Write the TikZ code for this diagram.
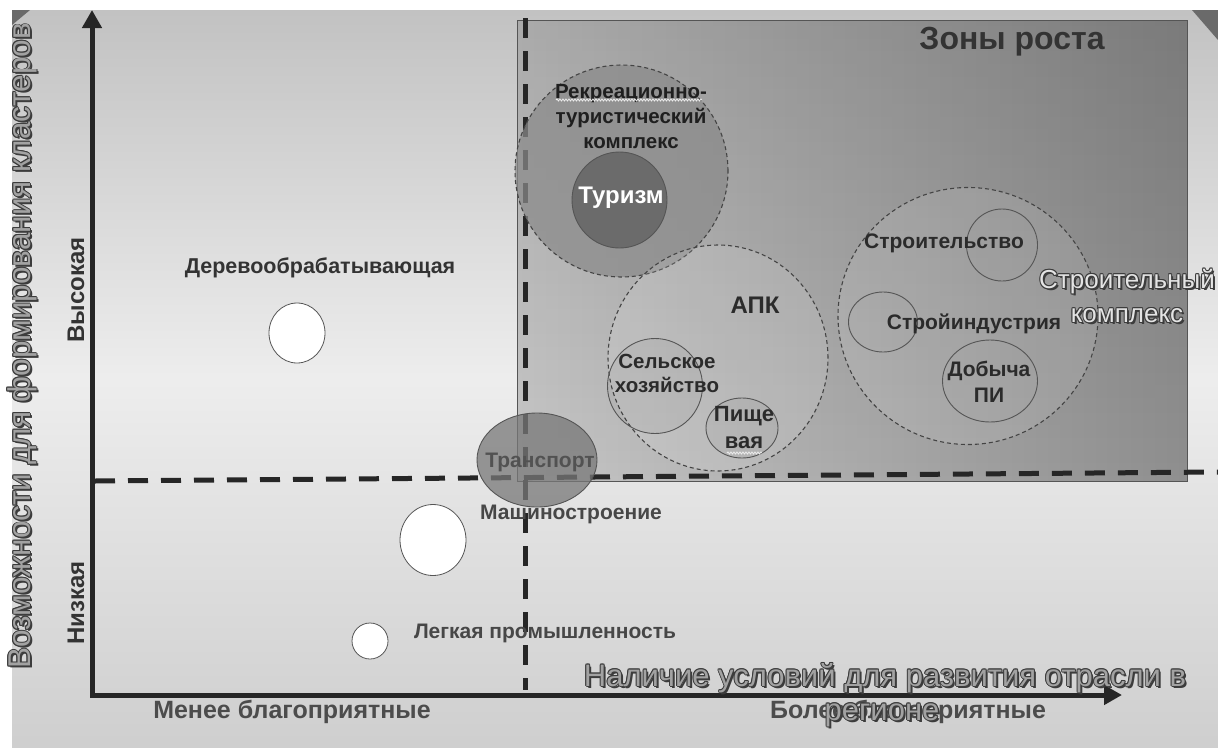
\documentclass[tikz,border=0pt]{standalone}
\usepackage{fontspec}
\setmainfont{Liberation Sans}
\usetikzlibrary{shapes.geometric,arrows.meta,fadings,decorations.pathmorphing}
\definecolor{axisc}{HTML}{262626}
\definecolor{labc}{HTML}{2B2B2B}
\definecolor{subc}{HTML}{555555}
\definecolor{dashc}{HTML}{444444}
\definecolor{recc}{HTML}{8A8A8A}
\definecolor{turc}{HTML}{6B6B6B}
\definecolor{trc}{HTML}{787878}
\definecolor{cornc}{HTML}{6A6A6A}
\definecolor{embline}{HTML}{3C3C3C}
\definecolor{embfill}{HTML}{A2A2A2}
\definecolor{embfillb}{HTML}{E4E4E4}
\tikzfading[name=fadetop, top color=transparent!0, bottom color=transparent!100]
\newcommand\fsz[2]{\fontsize{#1}{#2}\selectfont}
% name, position (x,y without parentheses), rotation, font, fill colour, text
\newcommand\embossnode[6]{%
  \foreach \dx/\dy [count=\k] in {2/2,-0.9/0,0.9/0,0/-0.9,0/0.9,-0.7/-0.7,0.7/0.7,-0.7/0.7,0.7/-0.7}{%
    \node[rotate=#3, text=embline, font=#4, inner sep=0pt, align=center] (#1-s\k) at ([shift={(\dx,\dy)}]#2) {#6};
  }%
  \node[rotate=#3, text=#5, font=#4, inner sep=0pt, align=center] (#1) at (#2) {#6};
}
\begin{document}
\begin{tikzpicture}[x=1pt,y=-1pt,
  lbl/.style={inner sep=0pt, align=center, text=labc, font=\bfseries\fsz{21}{25}},
  bigcirc/.style={draw=dashc, dash pattern=on 4pt off 3pt, line width=1.1pt, ellipse, inner sep=0pt},
  subcirc/.style={draw=subc, line width=0.9pt, ellipse, inner sep=0pt},
  whitecirc/.style={draw=subc, fill=white, line width=0.8pt, ellipse, inner sep=0pt},
  dashline/.style={draw=axisc, line width=5pt, dash pattern=on 20pt off 13pt},
  squig/.style={draw=white!85!gray, line width=0.8pt, decorate, decoration={snake, amplitude=1pt, segment length=3pt}},
]
\useasboundingbox (0,0) rectangle (1218,747);
\fill[white] (0,0) rectangle (1218,747);
% background panel
\shade[top color=black!24, bottom color=black!19, middle color=black!7] (12,10) rectangle (1218,747);
\fill[cornc] (12,10) -- (30,10) -- (12,25) -- cycle;
\fill[cornc] (1192,10) -- (1218,10) -- (1218,40) -- cycle;
% growth zone rectangle
\shade[left color=black!22, right color=black!44] (517,20) rectangle (1187,481);
\fill[black, opacity=0.14, path fading=fadetop] (517,20) rectangle (1187,481);
\draw[draw=subc, line width=1pt] (517,20) rectangle (1187,481);
% coordinates
\coordinate (ytop) at (92,10);
\coordinate (O) at (92,695);
\coordinate (xend) at (1122,695);
\coordinate (h1) at (95,481);
\coordinate (h2) at (1218,472);
\coordinate (v1) at (525,18);
\coordinate (v2) at (525,690);
% dashed quadrant lines
\draw[dashline] (h1) -- (h2);
\draw[dashline] (v1) -- (v2);
% axes
\draw[draw=axisc, line width=5pt, line join=miter, {Triangle[length=18pt,width=19pt]}-{Triangle[length=18pt,width=19pt]}] (ytop) -- (O) -- (xend);
% circles
\node[bigcirc, fill=recc, fill opacity=0.72, minimum width=213pt, minimum height=212pt] (rec) at (621.5,171) {};
\node[subcirc, fill=turc, minimum width=95pt, minimum height=96pt] (tur) at (619.5,200) {};
\node[bigcirc, fill=white, fill opacity=0.12, minimum width=220pt, minimum height=226pt] (apk) at (718,358) {};
\node[subcirc, fill=black, fill opacity=0.03, minimum width=95pt, minimum height=95pt] (selh) at (655,386) {};
\node[subcirc, fill=black, fill opacity=0.03, minimum width=72pt, minimum height=60pt] (pish) at (742,428) {};
\node[bigcirc, fill=white, fill opacity=0.1, minimum width=260pt, minimum height=257pt] (strk) at (968,316) {};
\node[subcirc, minimum width=71pt, minimum height=72pt] (stro) at (1002,245) {};
\node[subcirc, minimum width=69pt, minimum height=60pt] (stri) at (883,322) {};
\node[subcirc, minimum width=95pt, minimum height=82pt] (dob) at (990,381) {};
\node[subcirc, fill=trc, fill opacity=0.75, minimum width=120pt, minimum height=94pt] (tran) at (537,460) {};
\node[whitecirc, minimum width=66pt, minimum height=71pt] (mash) at (433,540) {};
\node[whitecirc, minimum width=36pt, minimum height=36pt] (legk) at (370,641) {};
\node[whitecirc, minimum width=56pt, minimum height=60pt] (derev) at (297,333) {};
% labels
\node[lbl, font=\bfseries\fsz{32}{36}, text=black!80] (zony) at (1012,42) {Зоны роста};
\node[lbl, font=\bfseries\fsz{20.5}{25}, text=black!88] (rect) at (631,117) {Рекреационно-\\туристический\\комплекс};
\draw[squig] (556,100) -- (702,100);
\node[lbl, text=white, font=\bfseries\fsz{24}{28}] (turt) at (621,198) {Туризм};
\node[lbl, font=\bfseries\fsz{24}{28}] (apkt) at (755,305) {АПК};
\node[lbl, font=\bfseries\fsz{20.5}{24}] (selht) at (667,373) {Сельское\\хозяйство};
\node[lbl, font=\bfseries\fsz{22}{27}] (pisht) at (744,428) {Пище\\вая};
\draw[squig] (727,453) -- (762,453);
\node[lbl] (strot) at (944,243) {Строительство};
\node[lbl] (strit) at (974,324) {Стройиндустрия};
\node[lbl, font=\bfseries\fsz{21}{26}] (dobt) at (989,382) {Добыча\\ПИ};
\embossnode{strkt}{1127,296}{0}{\fsz{26}{34}}{embfillb}{Строительный\\комплекс}
\node[lbl, text=black!68] (trant) at (540,462) {Транспорт};
\node[lbl, text=black!72] (masht) at (571,514) {Машиностроение};
\node[lbl, text=black!72] (legkt) at (545,633) {Легкая промышленность};
\node[lbl, font=\bfseries\fsz{21.5}{25}, text=black!80] (derevt) at (320,268) {Деревообрабатывающая};
\node[lbl, font=\bfseries\fsz{25}{29}, text=black!70] (menee) at (292,712) {Менее благоприятные};
\node[lbl, font=\bfseries\fsz{25}{29}, text=black!70] (bolee) at (908,712) {Более благоприятные};
\embossnode{nal}{885,678}{0}{\fsz{31}{36}}{embfill}{Наличие условий для развития отрасли в}
\embossnode{reg}{882,715}{0}{\fsz{31}{36}}{embfill}{регионе}
\embossnode{vozm}{22,346}{90}{\fsz{31.5}{36}}{embfill}{Возможности для формирования кластеров}
\node[lbl, rotate=90, font=\bfseries\fsz{24}{28}, text=black!80] (vys) at (76,290) {Высокая};
\node[lbl, rotate=90, font=\bfseries\fsz{24}{28}, text=black!80] (niz) at (76,603) {Низкая};
\end{tikzpicture}
\end{document}
